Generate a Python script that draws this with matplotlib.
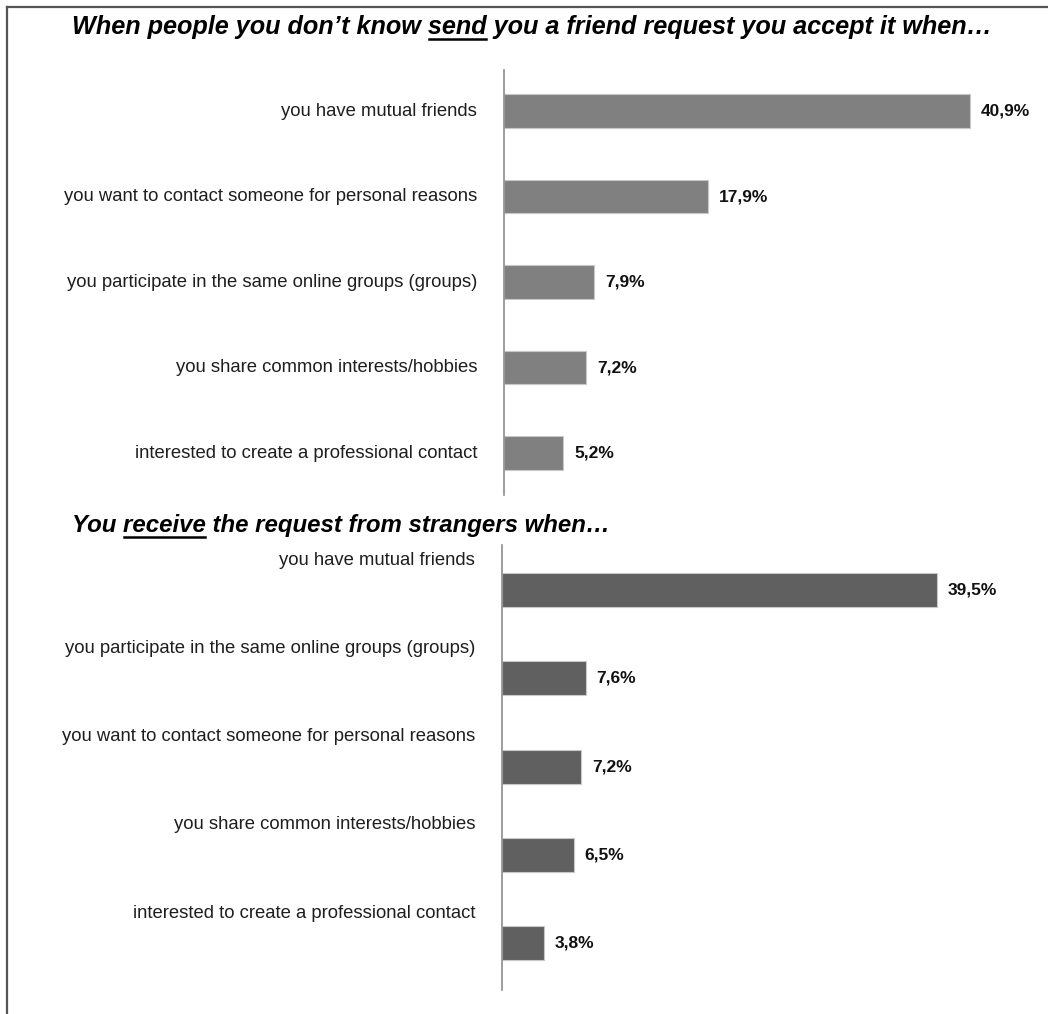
import matplotlib.pyplot as plt
from matplotlib.lines import Line2D

# data
top_title_pre = 'When people you don\u2019t know '
top_title_word = 'send'
top_title_post = ' you a friend request you accept it when\u2026'
top_labels = ['you have mutual friends',
              'you want to contact someone for personal reasons',
              'you participate in the same online groups (groups)',
              'you share common interests/hobbies',
              'interested to create a professional contact']
top_values = [40.9, 17.9, 7.9, 7.2, 5.2]

bot_title_pre = 'You '
bot_title_word = 'receive'
bot_title_post = ' the request from strangers when\u2026'
bot_labels = ['you have mutual friends',
              'you participate in the same online groups (groups)',
              'you want to contact someone for personal reasons',
              'you share common interests/hobbies',
              'interested to create a professional contact']
bot_values = [39.5, 7.6, 7.2, 6.5, 3.8]

W, H = 1048, 1014
fig = plt.figure(figsize=(W / 100, H / 100), dpi=100)

label_font = ['Liberation Sans', 'DejaVu Sans']
title_font = ['Liberation Sans', 'DejaVu Sans']


def px_axes(left, top, right, bottom):
    return fig.add_axes([left / W, 1 - bottom / H, (right - left) / W, (bottom - top) / H])


def draw_panel(ax, labels, values, color, xmax, height, label_dy, label_x):
    y = list(range(len(values)))
    ax.barh(y, values, height=height, color=color, edgecolor='#c8c8c8', linewidth=0.8)
    ax.set_xlim(0, xmax)
    ax.set_ylim(len(values) - 0.5, -0.5)
    for s in ['top', 'right', 'bottom']:
        ax.spines[s].set_visible(False)
    ax.spines['left'].set_color('#8c8c8c')
    ax.spines['left'].set_linewidth(1.2)
    ax.set_xticks([])
    ax.set_yticks([])
    for yi, lab, v in zip(y, labels, values):
        ax.text(label_x, yi + label_dy, lab, transform=ax.get_yaxis_transform(),
                ha='right', va='center', fontsize=13.3, color='#1e1e1e', family=label_font)
        ax.annotate(f'{v:.1f}%'.replace('.', ','), xy=(v, yi), xytext=(8, 0),
                    textcoords='offset points', ha='left', va='center',
                    fontsize=12.5, fontweight='bold', color='#111111', family=label_font)


ax1 = px_axes(504, 70, 1040, 495)
draw_panel(ax1, top_labels, top_values, '#808080', 536 / 11.39, 0.39, 0.0, -0.05)
ax1.set_ylim(4.49, -0.48)

ax2 = px_axes(502, 545, 1040, 990)
draw_panel(ax2, bot_labels, bot_values, '#606060', 538 / 11.0, 0.385, -0.34, -0.05)
ax2.set_ylim(4.53, -0.51)

# titles with one underlined word
renderer = fig.canvas.get_renderer()


def title_with_underline(x0, y0, pre, word, post, size, center=False):
    kw = dict(fontsize=size, fontweight='bold', fontstyle='italic', family=title_font,
              va='baseline', ha='left', transform=None)
    full = fig.text(0, 0, pre + word + post, **kw)
    w_full = full.get_window_extent(renderer).width
    if center:
        x0 = x0 - w_full / 2
    full.set_position((x0, H - y0))
    t_pre = fig.text(0, 0, pre, **kw)
    w_pre = t_pre.get_window_extent(renderer).width
    t_pre.remove()
    t_word = fig.text(0, 0, pre + word, **kw)
    w_word = t_word.get_window_extent(renderer).width
    t_word.remove()
    uy = H - y0 - 5
    fig.add_artist(Line2D([x0 + w_pre + 1, x0 + w_word - 1], [uy, uy], color='black',
                          linewidth=1.8, transform=None))


title_with_underline(532, 34, top_title_pre, top_title_word, top_title_post, 18.2, center=True)
title_with_underline(72, 532, bot_title_pre, bot_title_word, bot_title_post, 17.3)

# frame: top and left edges of the cropped box
fig.add_artist(Line2D([7 / W, 1], [1 - 7 / H, 1 - 7 / H], color='#555555', linewidth=1.6,
                      transform=fig.transFigure))
fig.add_artist(Line2D([7 / W, 7 / W], [1 - 7 / H, 0], color='#555555', linewidth=1.6,
                      transform=fig.transFigure))

fig.savefig('out.png', dpi=100)
